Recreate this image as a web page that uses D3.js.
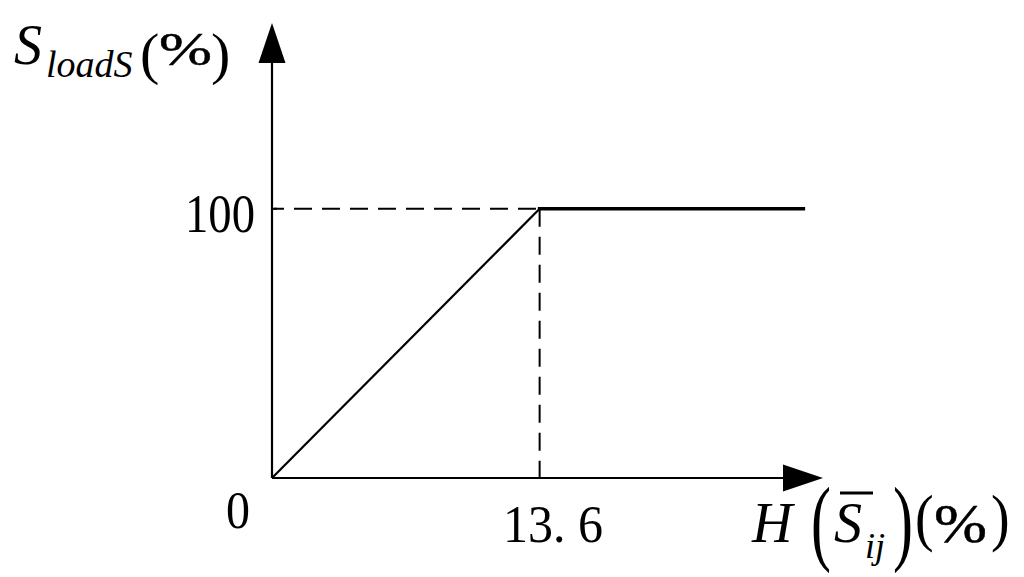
<!DOCTYPE html>
<html>
<head>
<meta charset="utf-8">
<script src="https://cdn.jsdelivr.net/npm/d3@7"></script>
<style>
html,body{margin:0;padding:0;background:#fff;}
svg{display:block;}
text{font-family:"Liberation Serif","Times New Roman",serif;fill:#000;}
</style>
</head>
<body>
<svg id="chart" width="1024" height="577"></svg>
<script>
// ---- data ----
const xValues = [0, 13.6, 27];
const yValues = [0, 100, 100];
const xTickLabels = ["0", "13. 6"];
const yTickLabels = ["100"];
const xDomain = [0, 28];
const yDomain = [0, 169];

const svg = d3.select("#chart");
const x = d3.scaleLinear().domain(xDomain).range([272, 823]);
const y = d3.scaleLinear().domain(yDomain).range([478, 23]);

const pts = xValues.map((v, i) => [v, yValues[i]]);
const arrowLen = 40, arrowHalf = 13.5;

// axes lines
svg.append("line").attr("x1", x(0)).attr("y1", y(0)).attr("x2", x(0)).attr("y2", y(yDomain[1]) + arrowLen)
  .attr("stroke", "#000").attr("stroke-width", 2.2);
svg.append("line").attr("x1", x(0)).attr("y1", y(0)).attr("x2", x(xDomain[1]) - arrowLen).attr("y2", y(0))
  .attr("stroke", "#000").attr("stroke-width", 2.2);
// arrowheads
const ty = y(yDomain[1]), tx = x(xDomain[1]);
svg.append("path").attr("d", `M${x(0)},${ty} L${x(0)-arrowHalf},${ty+arrowLen} L${x(0)+arrowHalf},${ty+arrowLen} Z`).attr("fill", "#000");
svg.append("path").attr("d", `M${tx},${y(0)} L${tx-arrowLen},${y(0)-arrowHalf} L${tx-arrowLen},${y(0)+arrowHalf} Z`).attr("fill", "#000");

// y tick at 100
svg.append("line").attr("x1", x(0)).attr("x2", x(0) + 5).attr("y1", y(yValues[1])).attr("y2", y(yValues[1]))
  .attr("stroke", "#000").attr("stroke-width", 2);

// dashed guides
svg.append("line").attr("x1", x(0) + 2).attr("y1", y(yValues[1])).attr("x2", x(xValues[1])).attr("y2", y(yValues[1]))
  .attr("stroke", "#000").attr("stroke-width", 2).attr("stroke-dasharray", "18,10").attr("stroke-dashoffset", 8);
svg.append("line").attr("x1", x(xValues[1])).attr("y1", y(yValues[1])).attr("x2", x(xValues[1])).attr("y2", y(0))
  .attr("stroke", "#000").attr("stroke-width", 2).attr("stroke-dasharray", "18,10").attr("stroke-dashoffset", 0);

// series: rising segment (thin) and plateau (thick)
svg.append("path").datum(pts.slice(0, 2)).attr("fill", "none").attr("stroke", "#000").attr("stroke-width", 2.2)
  .attr("d", d3.line().x(d => x(d[0])).y(d => y(d[1])));
svg.append("path").datum(pts.slice(1)).attr("fill", "none").attr("stroke", "#000").attr("stroke-width", 3.6)
  .attr("stroke-linecap", "square")
  .attr("d", d3.line().x(d => x(d[0])).y(d => y(d[1])));

// text helper
function txt(s, px, py, size, opts = {}) {
  const t = svg.append("text").attr("font-size", size).text(s);
  if (opts.sy) {
    t.attr("x", 0).attr("y", 0).attr("transform", `translate(${px},${py}) scale(1,${opts.sy})`);
  } else {
    t.attr("x", px).attr("y", py);
  }
  if (opts.italic) t.attr("font-style", "italic");
  if (opts.stroke) t.attr("stroke", "#000").attr("stroke-width", opts.stroke);
  if (opts.anchor) t.attr("text-anchor", opts.anchor);
  if (opts.len) t.attr("textLength", opts.len).attr("lengthAdjust", "spacingAndGlyphs");
  return t;
}
// tick labels
txt(yTickLabels[0], 185, y(yValues[1]) + 23, 54, {len: 70});
txt(xTickLabels[0], 226, 528, 52, {len: 24});
txt(xTickLabels[1], 503, 542, 52, {len: 100});

// y axis title: S_loadS (%)
txt("S", 14, 64, 56, {italic: true});
txt("loadS", 46, 77, 38, {italic: true});
txt("(", 140, 73, 58);
txt("%", 159, 65, 47, {stroke: 0.5, len: 53});
txt(")", 211, 73, 58);

// x axis title: H( S̄_ij )(%)
txt("H", 752, 542, 56, {italic: true});
txt("(", 811, 553, 60, {sy: 1.58});
txt("S", 834, 542, 56, {italic: true});
svg.append("line").attr("x1", 840).attr("x2", 873).attr("y1", 493).attr("y2", 493).attr("stroke", "#000").attr("stroke-width", 3);
txt("ij", 865, 558, 36, {italic: true});
txt(")", 893, 553, 60, {sy: 1.58});
txt("(", 915, 539, 56, {sy: 1.13});
txt("%", 934, 542, 54, {stroke: 0.5, len: 53});
txt(")", 991, 539, 56, {sy: 1.13});
</script>
</body>
</html>
